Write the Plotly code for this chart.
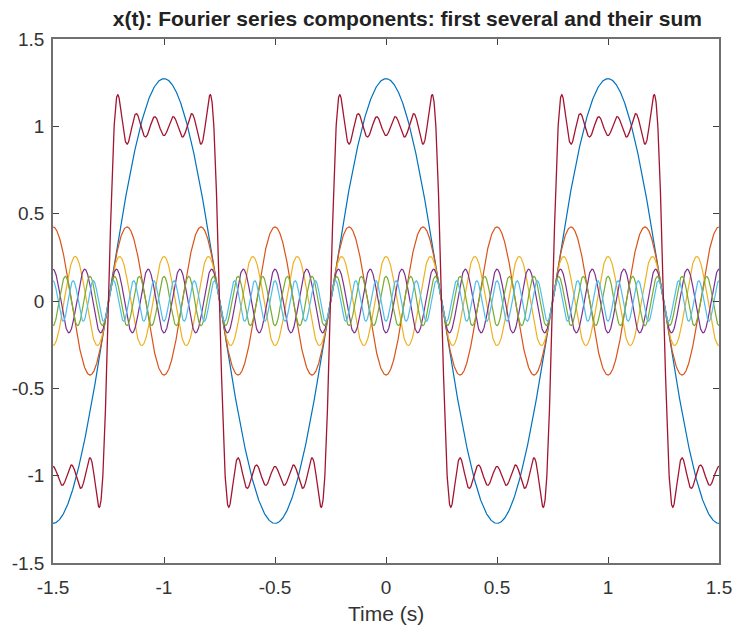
import numpy as np
import plotly.graph_objects as go

# Fourier series of a square wave: harmonic numbers and signed amplitudes
harmonics = [1, 3, 5, 7, 9, 11]
amplitudes = [1.273, -0.424, 0.255, -0.182, 0.141, -0.116]
colors = ["#0072BD", "#D95319", "#EDB120", "#7E2F8E", "#77AC30", "#4DBEEE"]
sum_color = "#A2142F"
x_ticks = [-1.5, -1, -0.5, 0, 0.5, 1, 1.5]
y_ticks = [-1.5, -1, -0.5, 0, 0.5, 1, 1.5]

t = np.linspace(-1.5, 1.5, 3001)
fig = go.Figure()
total = np.zeros_like(t)
for h, a, c in zip(harmonics, amplitudes, colors):
    y = a * np.cos(2 * np.pi * h * t)
    total += y
    fig.add_trace(go.Scatter(x=t, y=y, mode="lines", line=dict(color=c, width=1.2), showlegend=False))
fig.add_trace(go.Scatter(x=t, y=total, mode="lines", line=dict(color=sum_color, width=1.3), showlegend=False))

axis_common = dict(
    showgrid=False, zeroline=False, showline=True, linecolor="#707070", linewidth=1.5,
    mirror="ticks", ticks="inside", ticklen=6, tickcolor="#404040", tickwidth=1,
    tickfont=dict(family="Liberation Sans, Arial", size=19, color="#333333"),
    automargin=False,
)
fig.update_xaxes(range=[-1.5, 1.5], tickvals=x_ticks, ticktext=[f"{v:g}" for v in x_ticks],
                 ticklabelstandoff=6, **axis_common)
fig.update_yaxes(range=[-1.5, 1.5], tickvals=y_ticks, ticktext=[f"{v:g}" for v in y_ticks],
                 ticklabelstandoff=3, **axis_common)
fig.add_annotation(text="Time (s)", xref="paper", yref="paper", x=0.5, y=-0.097,
                   xanchor="center", yanchor="middle", showarrow=False, borderpad=0,
                   font=dict(family="Liberation Sans, Arial", size=21, color="#333333"))
fig.update_layout(
    width=734, height=628,
    margin=dict(l=53, r=15, t=39, b=65),
    plot_bgcolor="white", paper_bgcolor="white",
    title=dict(text="<b>x(t): Fourier series components: first several and their sum</b>",
               x=0.555, xanchor="center", y=0.971, yanchor="middle",
               font=dict(family="Liberation Sans, Arial", size=21, color="#222222")),
)
fig.write_html("out.html")
